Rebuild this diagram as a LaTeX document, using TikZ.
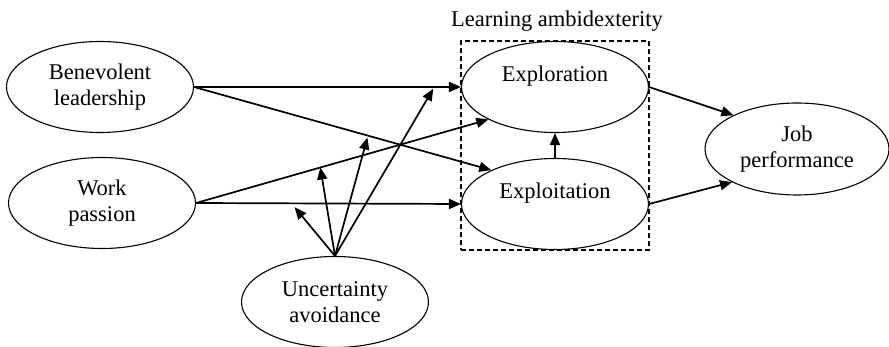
\documentclass[tikz,border=0pt]{standalone}
\usepackage{fontspec}
\setmainfont{Liberation Serif}
\usetikzlibrary{arrows.meta,shapes.geometric,fit}
\begin{document}
\begin{tikzpicture}[x=1pt,y=-1pt,
  txt/.style={font=\fontsize{22.5}{26}\selectfont, align=center},
  ell/.style={txt, draw, ellipse, line width=1.1pt, inner sep=0pt, minimum width=187pt, minimum height=91pt},
  arr/.style={line width=1.7pt, -{Triangle[length=12pt,width=10pt]}},
  modarr/.style={arr, shorten >=2pt},
]
\useasboundingbox (0,0) rectangle (889,347);
\node[ell] (bl) at (100,87) {Benevolent\\leadership};
\node[ell] (wp) at (102,203) {Work\\passion};
\node[ell] (expl) at (555,87) {Exploration\\\mbox{}};
\node[ell] (expt) at (555,204) {Exploitation\\\mbox{}};
\node[ell] (ua) at (335,302) {Uncertainty\\avoidance};
\node[ell, minimum width=184pt, minimum height=92pt] (jp) at (797,149) {Job\\performance};
\node[draw, line width=1.3pt, dash pattern=on 5pt off 3pt, inner sep=0pt, fit=(expl)(expt)] (box) {};
\node[txt] (lab) at (557,21) {Learning ambidexterity};

\draw[arr] (bl.east) -- (expl.west) coordinate[pos=0.90] (m4);
\path (bl.east) -- (expt.152) coordinate[pos=0.585] (m3);
\draw[arr] (bl.east) -- (expt.152);
\draw[arr] (wp.east) -- (expt.west) coordinate[pos=0.36] (m1);
\draw[arr] (wp.east) -- (expl.206) coordinate[pos=0.425] (m2);
\draw[arr] (expt.north) -- (expl.south);
\draw[arr] (expl.east) -- (jp.152);
\draw[arr] (expt.east) -- (jp.207);

\draw[arr, shorten >=5pt] (ua.north) -- (m1);
\draw[arr] (ua.north) -- (m2);
\draw[modarr] (ua.north) -- (m3);
\draw[modarr] (ua.north) -- (m4);
\end{tikzpicture}
\end{document}
